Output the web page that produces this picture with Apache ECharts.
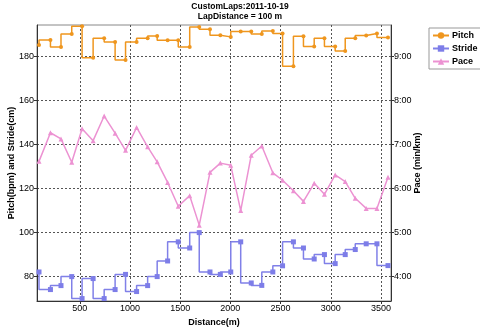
<!DOCTYPE html>
<html><head><meta charset="utf-8">
<script src="https://cdn.jsdelivr.net/npm/echarts@6/dist/echarts.min.js"></script>
<style>html,body{margin:0;padding:0;background:#fff}#c{width:480px;height:329px}</style>
</head><body><div id="c"></div>
<script>
const titleLines = ['CustomLaps:2011-10-19', 'LapDistance = 100 m'];
const distances = [94,208,313,420,523,633,743,852,956,1066,1176,1271,1375,1481,1595,1690,1797,1900,2004,2103,2208,2313,2423,2520,2628,2728,2835,2937,3044,3144,3244,3353,3460,3570];
const pitch = [185.3,187.6,184.4,190.3,193.8,179.5,188.4,186.7,178.5,186.7,188.4,189.4,187.5,187.5,184.4,193.5,192.5,189.7,189.0,191.4,191.4,190.3,191.7,190.5,175.6,189.3,184.6,188.4,184.6,182.6,188.4,189.6,190.5,188.7];
const stride = [82.1,74.1,75.9,80.0,70.0,79.1,70.0,74.1,81.0,73.2,75.9,80.0,87.1,95.8,93.0,100.0,82.1,81.0,82.1,95.8,77.1,76.0,82.1,84.9,95.8,93.0,88.0,90.0,85.9,90.0,92.3,94.9,94.9,85.0];
const pace = [6.62,7.27,7.13,6.60,7.36,7.09,7.65,7.26,6.87,7.39,6.95,6.61,6.14,5.60,5.84,5.17,6.37,6.58,6.53,5.50,6.76,6.97,6.36,6.19,5.95,5.71,6.12,5.87,6.31,6.16,5.78,5.55,5.55,6.26];
const xTicks = [500,1000,1500,2000,2500,3000,3500];
const leftTicks = [80,100,120,140,160,180];
const paceTicks = [4,5,6,7,8,9];

const FONT = 'Liberation Sans, Arial, sans-serif';
const gridLine = {show:true, lineStyle:{color:'#555', type:[2,2], width:1}};
function fmtPace(v){const m=Math.floor(v+1e-9);const s=Math.round((v-m)*60);return m+':'+(s<10?'0':'')+s;}

const chart = echarts.init(document.getElementById('c'), null, {renderer:'canvas'});
chart.setOption({
  animation:false,
  backgroundColor:'#fff',
  title:{text:titleLines.join('\n'), left:'center', top:1, padding:0,
    textStyle:{fontFamily:FONT, fontSize:8.5, fontWeight:'bold', color:'#000', lineHeight:10.5}},
  legend:{orient:'vertical', left:429, top:28, padding:[3,4,3,3], itemGap:4, itemWidth:16, itemHeight:8,
    borderColor:'#999', borderWidth:1, data:['Pitch','Stride','Pace'],
    textStyle:{fontFamily:FONT, fontSize:9, fontWeight:'bold', color:'#000', padding:[0,0,0,-2]}},
  grid:{left:37, right:89, top:25, bottom:28, show:true, borderColor:'#888', borderWidth:1, containLabel:false, outerBoundsMode:'none'},
  xAxis:{type:'value', min:74, max:3600, name:'Distance(m)', nameLocation:'middle', nameGap:17, nameMoveOverlap:false,
    nameTextStyle:{fontFamily:FONT, fontSize:9, fontWeight:'bold', color:'#000'},
    axisLine:{lineStyle:{color:'#333'}}, axisTick:{show:true, length:3, customValues:xTicks, lineStyle:{color:'#333'}},
    axisLabel:{customValues:xTicks, formatter:v=>String(v), fontFamily:FONT, fontSize:9, color:'#000', margin:3},
    splitLine:gridLine},
  yAxis:[
    {type:'value', min:68.9, max:194.4, name:'Pitch(bpm) and Stride(cm)', nameLocation:'middle', nameGap:21, nameMoveOverlap:false,
      nameTextStyle:{fontFamily:FONT, fontSize:9, fontWeight:'bold', color:'#000'},
      axisLine:{show:true, lineStyle:{color:'#333'}}, axisTick:{show:true, length:3, customValues:leftTicks, lineStyle:{color:'#333'}},
      axisLabel:{customValues:leftTicks, formatter:v=>String(v), fontFamily:FONT, fontSize:9, color:'#000', margin:3},
      splitLine:gridLine},
    {type:'value', position:'right', min:3.445, max:9.72, name:'Pace (min/km)', nameLocation:'middle', nameGap:22, nameRotate:90, nameMoveOverlap:false,
      nameTextStyle:{fontFamily:FONT, fontSize:9, fontWeight:'bold', color:'#000'},
      axisLine:{show:true, lineStyle:{color:'#333'}}, axisTick:{show:true, length:3, customValues:paceTicks, lineStyle:{color:'#333'}},
      axisLabel:{customValues:paceTicks, formatter:fmtPace, fontFamily:FONT, fontSize:9, color:'#000', margin:3},
      splitLine:{show:false}}
  ],
  series:[
    {name:'Pitch', type:'line', step:'start', yAxisIndex:0, data:distances.map((d,i)=>[d,pitch[i]]),
      symbol:'circle', symbolSize:4, showAllSymbol:true, itemStyle:{color:'#EF961E'}, lineStyle:{color:'#EF961E', width:1.5}},
    {name:'Stride', type:'line', step:'start', yAxisIndex:0, data:distances.map((d,i)=>[d,stride[i]]),
      symbol:'rect', symbolSize:5, showAllSymbol:true, itemStyle:{color:'#7D7DE8'}, lineStyle:{color:'#8080E8', width:1.5}},
    {name:'Pace', type:'line', yAxisIndex:1, data:distances.map((d,i)=>[d,pace[i]]),
      symbol:'triangle', symbolSize:5, showAllSymbol:true, itemStyle:{color:'#EC92D2'}, lineStyle:{color:'#EC92D2', width:1.5}}
  ]
});
</script></body></html>
